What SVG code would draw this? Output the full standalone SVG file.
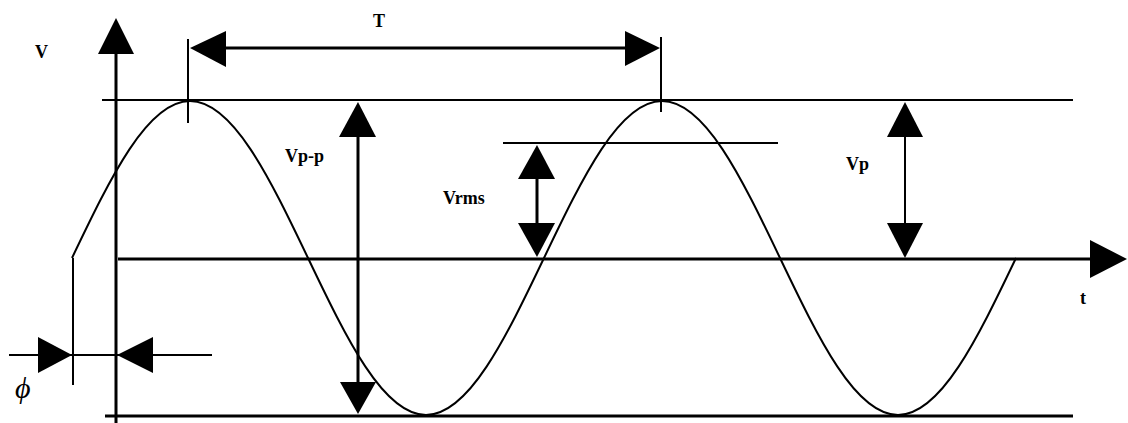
<svg xmlns="http://www.w3.org/2000/svg" width="1128" height="423" viewBox="0 0 1128 423">
<style>
.ln{stroke:#000;stroke-width:2;fill:none}
.th{stroke:#000;stroke-width:3;fill:none}
.ah{fill:#000;stroke:none}
.lbl{font-family:"Liberation Serif","Times New Roman",serif;font-size:18px;font-weight:bold;fill:#000}
</style>
<rect width="1128" height="423" fill="#fff"/>
<g id="axes">
<line class="th" x1="116" y1="423" x2="116" y2="52"/>
<polygon class="ah" points="116,18 98,54 134,54"/>
<line class="th" x1="118" y1="259" x2="1092" y2="259"/>
<polygon class="ah" points="1127,259 1090,240 1090,278"/>
<line class="ln" x1="102" y1="100" x2="1073" y2="100"/>
<line class="th" x1="105" y1="416" x2="1073" y2="416"/>
</g>
<g id="wave">
<path class="ln" d="M72,258 c38.48,-80.43 75.29,-157 118,-157 c42.71,0 79.52,76.57 118,157 c38.48,80.43 75.29,157 118,157 c42.71,0 79.52,-76.57 118,-157 c38.48,-80.43 75.29,-157 118,-157 c42.71,0 79.52,76.57 118,157 c38.48,80.43 75.29,157 118,157 c42.71,0 79.52,-76.57 118,-157"/>
</g>
<g id="connectors">
<line class="ln" x1="188" y1="39" x2="188" y2="123"/>
<line class="ln" x1="661" y1="37" x2="661" y2="112"/>
<line class="th" x1="224" y1="48" x2="627" y2="48"/>
<polygon class="ah" points="190,48 226,31 226,67"/>
<polygon class="ah" points="660,48 625,31 625,66"/>
<line class="th" x1="358" y1="135" x2="358" y2="384"/>
<polygon class="ah" points="358,102 339,137 376,137"/>
<polygon class="ah" points="358,414 340,382 376,382"/>
<line class="ln" x1="503" y1="143" x2="778" y2="143"/>
<line class="th" x1="537" y1="177" x2="537" y2="225"/>
<polygon class="ah" points="537,145 518,179 555,179"/>
<polygon class="ah" points="537,257 518,223 555,223"/>
<line class="ln" x1="905" y1="135" x2="905" y2="225"/>
<polygon class="ah" points="905,102 887,137 923,137"/>
<polygon class="ah" points="905,258 887,223 923,223"/>
<line class="ln" x1="73" y1="258" x2="73" y2="385"/>
<line class="ln" x1="9" y1="355" x2="212" y2="355"/>
<polygon class="ah" points="72,355 38,337 38,373"/>
<polygon class="ah" points="117,355 153,337 153,373"/>
</g>
<g id="label-V"><text class="lbl" x="35" y="58">V</text></g>
<g id="label-T"><text class="lbl" x="373" y="27">T</text></g>
<g id="label-Vpp"><text class="lbl" x="285" y="162">Vp-p</text></g>
<g id="label-Vrms"><text class="lbl" x="443" y="204">Vrms</text></g>
<g id="label-Vp"><text class="lbl" x="846" y="170">Vp</text></g>
<g id="label-t"><text class="lbl" x="1080" y="304">t</text></g>
<g id="label-phi"><text class="lbl" x="15" y="398" style="font-style:italic;font-weight:normal;font-size:30px">ϕ</text></g>
</svg>
